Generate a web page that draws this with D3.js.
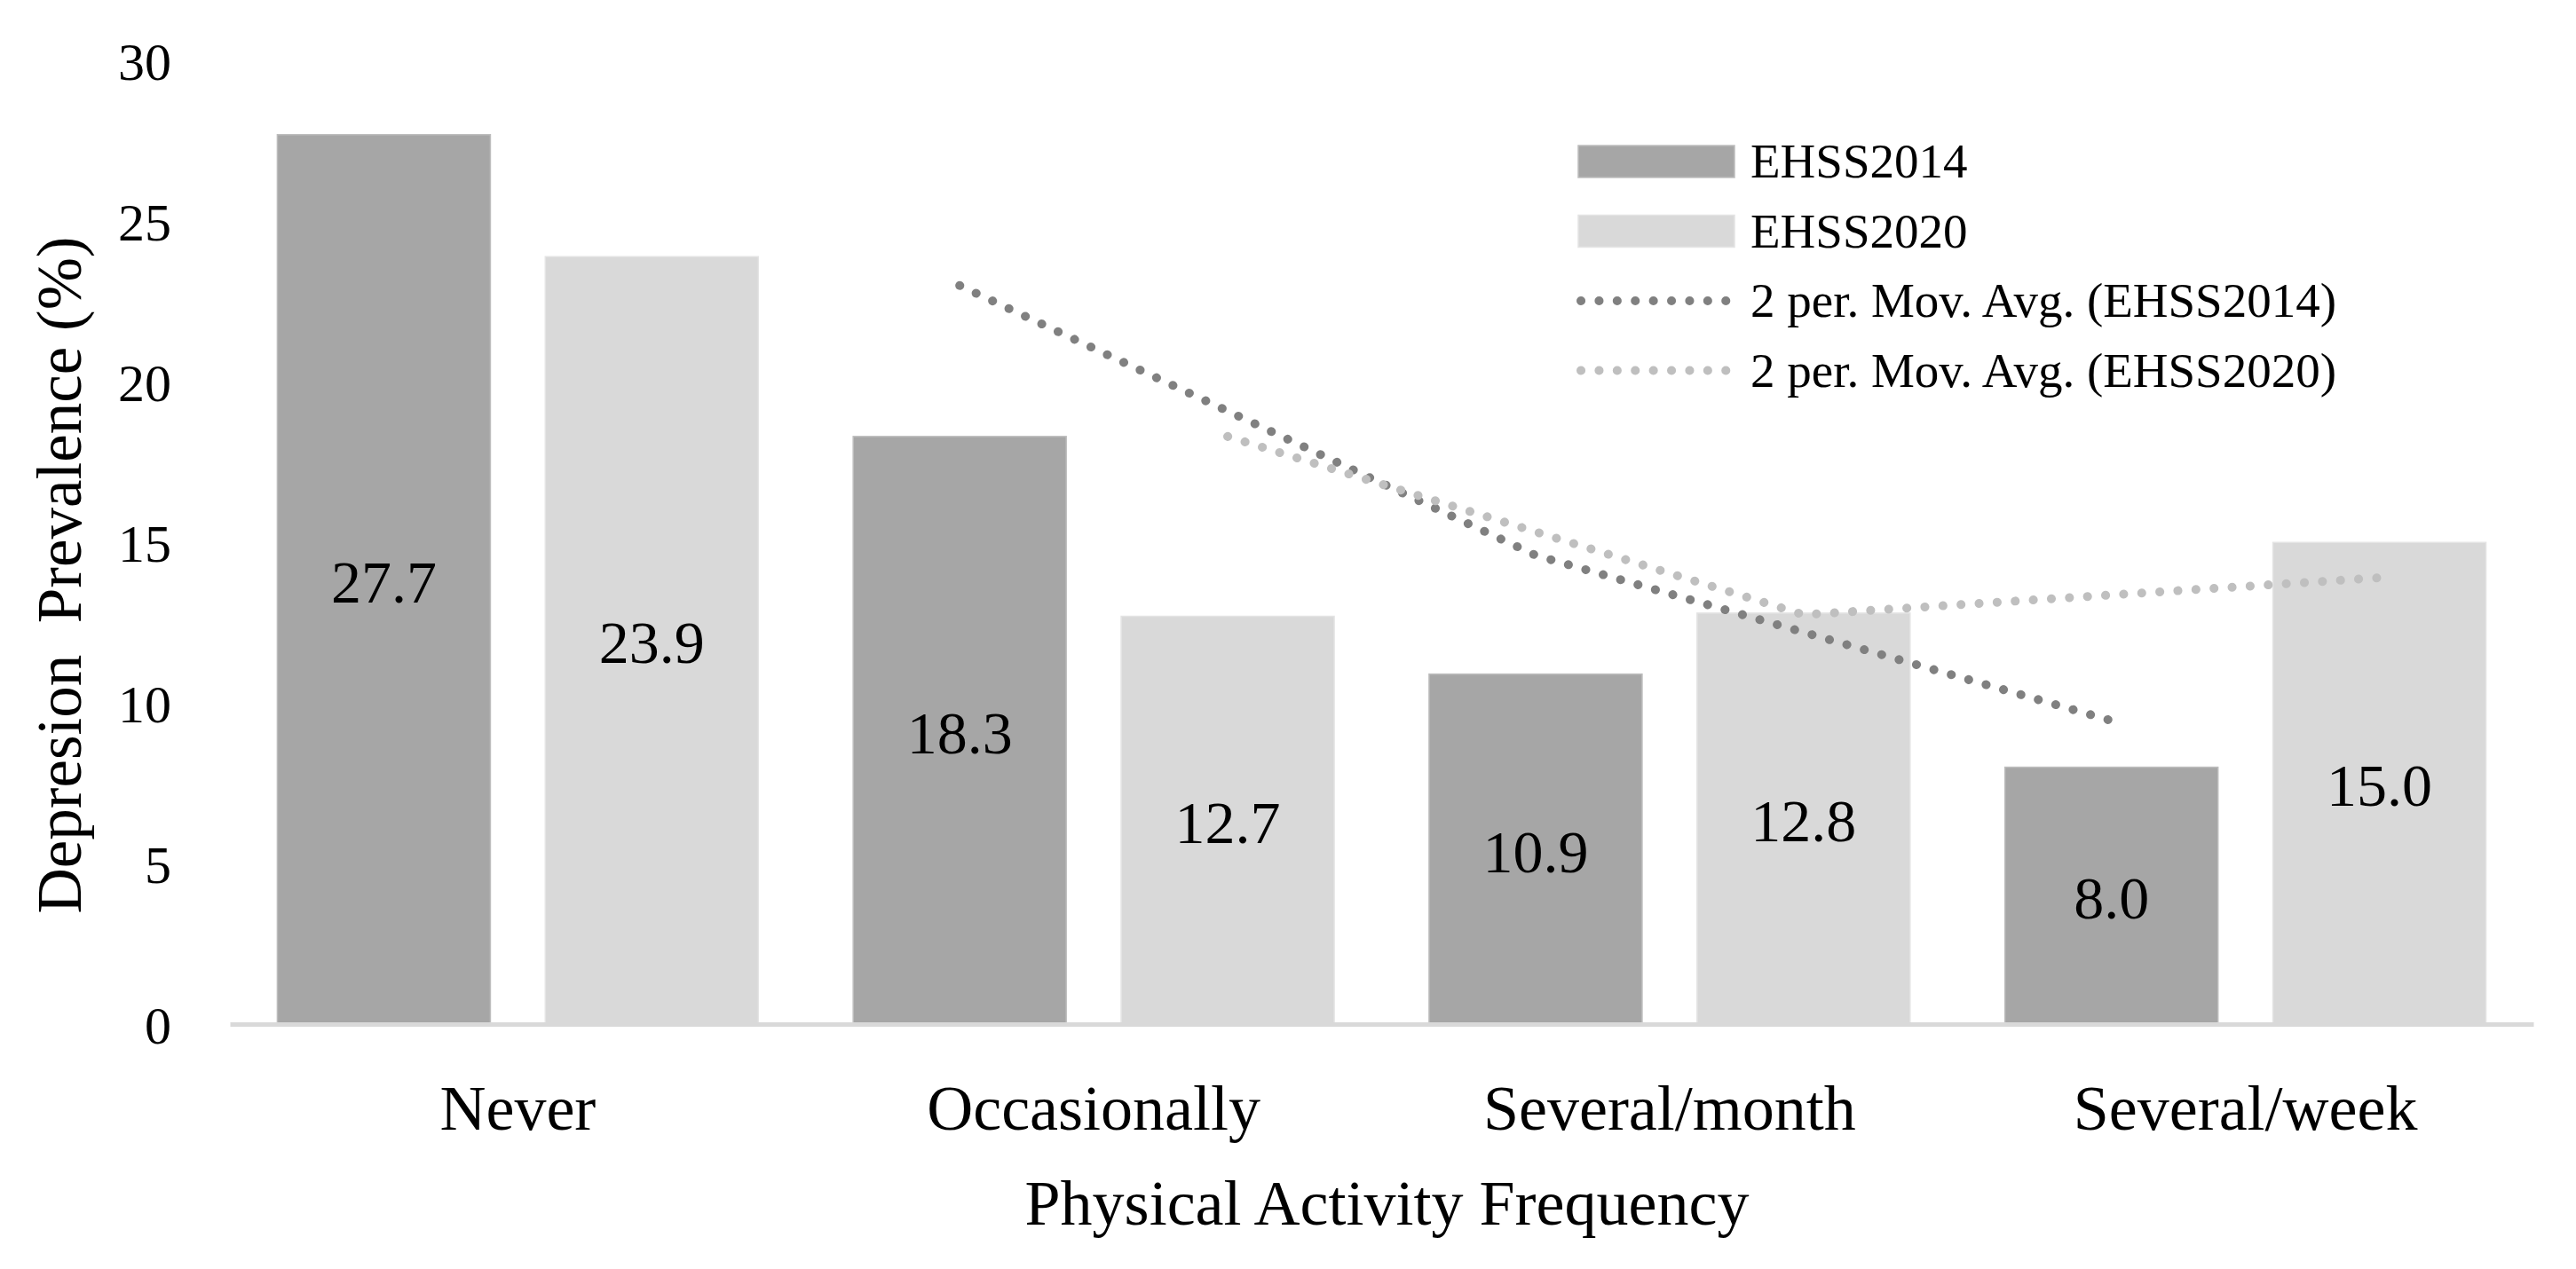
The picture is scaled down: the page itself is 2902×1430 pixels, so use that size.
<!DOCTYPE html>
<html>
<head>
  <meta charset="utf-8">
  <title>Depression Prevalence by Physical Activity Frequency</title>
  <script src="https://d3js.org/d3.v7.min.js"></script>
  <style>
    body { margin: 0; background: #fff; }
    text { font-family: "Liberation Serif", "Times New Roman", serif; fill: #000; }
  </style>
</head>
<body>
<div id="viz_1"></div>

<script>

  // data
  var categories = ["Never", "Occasionally", "Several/month", "Several/week"];
  var seriesNames = ["EHSS2014", "EHSS2020"];
  var ehss2014 = [27.7, 18.3, 10.9, 8.0];
  var ehss2020 = [23.9, 12.7, 12.8, 15.0];
  // 2 period moving averages, plotted from the 2nd category on
  var movAvg2014 = [23.0, 14.6, 9.45];
  var movAvg2020 = [18.3, 12.75, 13.9];
  var yTicks = [0, 5, 10, 15, 20, 25, 30];
  var legendLabels = ["EHSS2014", "EHSS2020", "2 per. Mov. Avg. (EHSS2014)", "2 per. Mov. Avg. (EHSS2020)"];

  var barColor = { "EHSS2014": "#a6a6a6", "EHSS2020": "#d9d9d9" };
  var barEdge = { "EHSS2014": "#bdbdbd", "EHSS2020": "#e4e4e4" };
  var lineColor = { "EHSS2014": "#808080", "EHSS2020": "#bfbfbf" };

  // set the dimensions and margins of the graph
  var margin = { top: 68.5, right: 48, bottom: 276, left: 259 },
    width = 2902 - margin.left - margin.right,
    height = 1430 - margin.top - margin.bottom;

  var svg = d3.select("#viz_1")
    .append("svg")
    .attr("width", 2902)
    .attr("height", 1430)
    .append("g")
    .attr("transform", "translate(" + margin.left + "," + margin.top + ")");

  // scales
  var x0 = d3.scaleBand()
    .domain(categories)
    .range([0, width])
    .padding(0);

  var x1 = d3.scaleBand()
    .domain(seriesNames)
    .range([0, x0.bandwidth()])
    .paddingInner(0.205)
    .paddingOuter(0.177);

  var y = d3.scaleLinear()
    .domain([0, 30])
    .range([height, 0]);

  var fmt = d3.format(".1f");

  // Y axis (labels only)
  var yAxis = svg.append("g")
    .call(d3.axisLeft(y).tickValues(yTicks).tickSize(0).tickPadding(66));
  yAxis.select(".domain").remove();
  yAxis.selectAll("text")
    .style("font-family", "Liberation Serif")
    .style("font-size", "60px")
    .attr("dy", "0.35em")
    .attr("fill", "#000");

  // bars
  var table = categories.map(function (c, i) {
    return { cat: c, values: [ { key: "EHSS2014", value: ehss2014[i] }, { key: "EHSS2020", value: ehss2020[i] } ] };
  });

  var groups = svg.selectAll(".cat")
    .data(table)
    .enter()
    .append("g")
    .attr("class", "cat")
    .attr("transform", function (d) { return "translate(" + x0(d.cat) + ",0)"; });

  groups.selectAll("rect")
    .data(function (d) { return d.values; })
    .enter()
    .append("rect")
    .attr("x", function (d) { return x1(d.key); })
    .attr("y", function (d) { return y(d.value); })
    .attr("width", x1.bandwidth())
    .attr("height", function (d) { return height - y(d.value); })
    .attr("fill", function (d) { return barColor[d.key]; })
    .attr("stroke", function (d) { return barEdge[d.key]; })
    .attr("stroke-width", 1.5);

  // value labels in the middle of each bar
  groups.selectAll(".val")
    .data(function (d) { return d.values; })
    .enter()
    .append("text")
    .attr("class", "val")
    .attr("x", function (d) { return x1(d.key) + x1.bandwidth() / 2; })
    .attr("y", function (d) { return y(d.value / 2); })
    .attr("dy", "0.38em")
    .attr("text-anchor", "middle")
    .style("font-size", "68px")
    .text(function (d) { return fmt(d.value); });

  // X axis
  var xAxis = svg.append("g")
    .attr("transform", "translate(0," + height + ")")
    .call(d3.axisBottom(x0).tickSize(0).tickSizeOuter(0).tickPadding(68));
  xAxis.select(".domain")
    .attr("stroke", "#d9d9d9")
    .attr("stroke-width", 5);
  xAxis.selectAll("text")
    .style("font-family", "Liberation Serif")
    .style("font-size", "72px")
    .attr("fill", "#000");

  // moving average trendlines
  function maLine(key) {
    return d3.line()
      .x(function (d, i) { return x0(categories[i + 1]) + x1(key) + x1.bandwidth() / 2; })
      .y(function (d) { return y(d); });
  }

  [["EHSS2014", movAvg2014], ["EHSS2020", movAvg2020]].forEach(function (s) {
    svg.append("path")
      .datum(s[1])
      .attr("d", maLine(s[0]))
      .attr("fill", "none")
      .attr("stroke", lineColor[s[0]])
      .attr("stroke-width", 10)
      .attr("stroke-linecap", "round")
      .attr("stroke-dasharray", "0.1 20.3");
  });

  // axis titles
  svg.append("text")
    .attr("x", width / 2 + 6)
    .attr("y", 1380 - margin.top)
    .attr("text-anchor", "middle")
    .style("font-size", "72px")
    .text("Physical Activity Frequency");

  svg.append("text")
    .attr("transform", "translate(" + (91 - margin.left) + "," + (648 - margin.top) + ") rotate(-90)")
    .attr("text-anchor", "middle")
    .style("font-size", "71px")
    .style("white-space", "pre")
    .attr("xml:space", "preserve")
    .text("Depresion  Prevalence (%)");

  // legend
  var legend = svg.append("g")
    .attr("transform", "translate(" + (1776 - margin.left) + "," + (182 - margin.top) + ")");

  var rows = legend.selectAll(".row")
    .data(legendLabels)
    .enter()
    .append("g")
    .attr("class", "row")
    .attr("transform", function (d, i) { return "translate(0," + (i * 78.5) + ")"; });

  rows.each(function (d, i) {
    var g = d3.select(this);
    var key = seriesNames[i % 2];
    if (i < 2) {
      g.append("rect")
        .attr("x", 2)
        .attr("y", -18)
        .attr("width", 176)
        .attr("height", 36)
        .attr("fill", barColor[key])
        .attr("stroke", barEdge[key])
        .attr("stroke-width", 1.5);
    } else {
      g.append("line")
        .attr("x1", 5)
        .attr("x2", 176)
        .attr("y1", 0)
        .attr("y2", 0)
        .attr("stroke", lineColor[key])
        .attr("stroke-width", 10)
        .attr("stroke-linecap", "round")
        .attr("stroke-dasharray", "0.1 20.3");
    }
    g.append("text")
      .attr("x", 196)
      .attr("y", 18)
      .style("font-size", "55px")
      .text(d);
  });

</script>
</body>
</html>
